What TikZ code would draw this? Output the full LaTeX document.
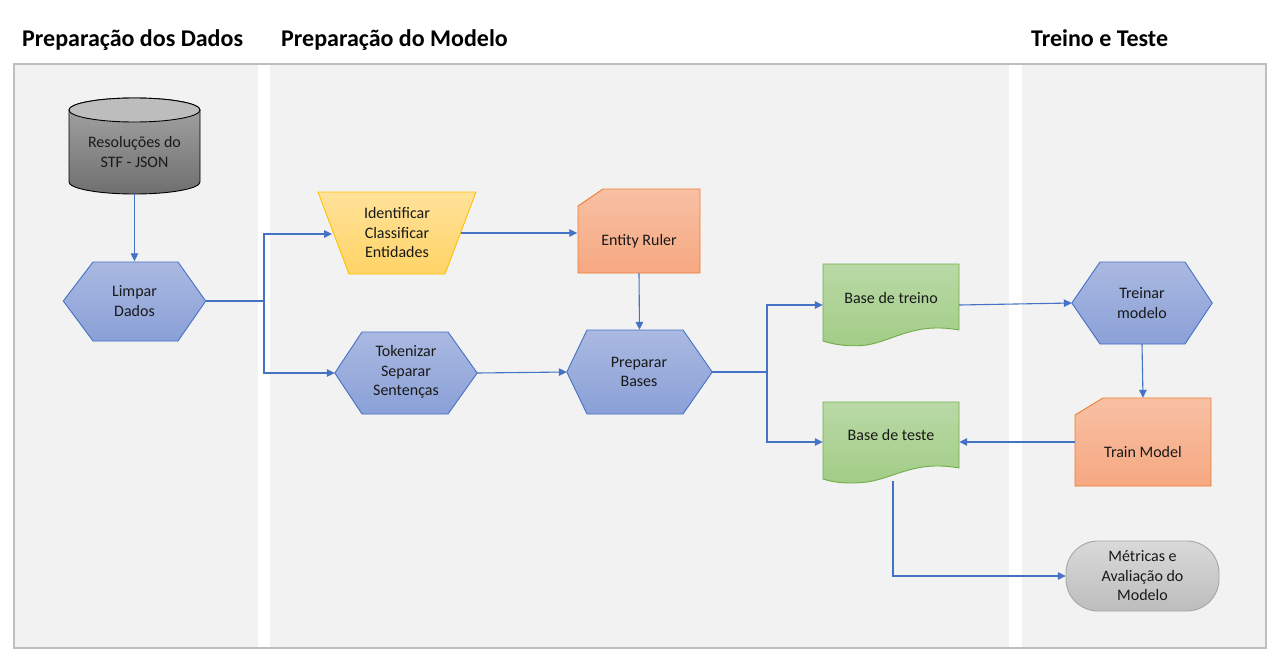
\documentclass[tikz,border=0pt]{standalone}
\usepackage{fontspec}
\setmainfont{Carlito}
\usetikzlibrary{arrows.meta,calc}
\definecolor{lanebg}{HTML}{F2F2F2}
\definecolor{frame}{HTML}{BFBFBF}
\definecolor{arrowblue}{HTML}{4472C4}
\definecolor{hexborder}{HTML}{4472C4}
\definecolor{hextop}{HTML}{AAB9E1}
\definecolor{hexbot}{HTML}{8AA0D7}
\definecolor{yelborder}{HTML}{FFC000}
\definecolor{yeltop}{HTML}{FFE29A}
\definecolor{yelbot}{HTML}{FFD466}
\definecolor{orborder}{HTML}{ED7D31}
\definecolor{ortop}{HTML}{F8C0A4}
\definecolor{orbot}{HTML}{F6A881}
\definecolor{grborder}{HTML}{70AD47}
\definecolor{grtop}{HTML}{B9D9A6}
\definecolor{grbot}{HTML}{A2CC86}
\definecolor{cyltop}{HTML}{A6A6A6}
\definecolor{cylbot}{HTML}{6F6F6F}
\definecolor{cylcap}{HTML}{BDBDBD}
\definecolor{graytop}{HTML}{D9D9D9}
\definecolor{graybot}{HTML}{BDBDBD}
\definecolor{grayborder}{HTML}{A6A6A6}
\tikzset{
  lbl/.style={inner sep=0pt, align=center, font=\fontsize{16}{19.5}\selectfont, text=black!90},
  ttl/.style={inner sep=0pt, anchor=base west, font=\fontsize{24}{27}\selectfont\bfseries},
  conn/.style={draw=arrowblue, line width=1.1pt, -{Triangle[length=8pt,width=7.5pt]}},
  line/.style={draw=arrowblue, line width=1.1pt},
  hexshape/.style={draw=hexborder, line width=0.9pt, top color=hextop, bottom color=hexbot},
  yelshape/.style={draw=yelborder, line width=0.9pt, top color=yeltop, bottom color=yelbot},
  orshape/.style={draw=orborder, line width=0.9pt, top color=ortop, bottom color=orbot},
  grshape/.style={draw=grborder, line width=0.9pt, top color=grtop, bottom color=grbot},
  grayshape/.style={draw=grayborder, line width=0.9pt, top color=graytop, bottom color=graybot},
}
\begin{document}
\begin{tikzpicture}[x=1pt,y=-1pt]
\useasboundingbox (0,0) rectangle (1280,666);
\fill[white] (0,0) rectangle (1280,666);
% lanes
\fill[lanebg] (14,64) rectangle (258,648);
\fill[lanebg] (270,64) rectangle (1009,648);
\fill[lanebg] (1022,64) rectangle (1266,648);
\draw[frame, line width=1.2pt] (14,64) rectangle (1266,648);
% titles
\node[ttl] (t1) at (22,47) {Preparação dos Dados};
\node[ttl] (t2) at (281,47) {Preparação do Modelo};
\node[ttl] (t3) at (1031,47) {Treino e Teste};

% cylinder
\path[draw=black, line width=0.9pt, top color=cyltop, bottom color=cylbot]
  (69,110) -- (69,182) arc[start angle=180, end angle=0, x radius=65.5, y radius=12] -- (200,110) arc[start angle=0, end angle=-180, x radius=65.5, y radius=12] -- cycle;
\path[draw=black, line width=0.9pt, fill=cylcap] (134.5,110) ellipse[x radius=65.5, y radius=12];
\node[lbl, minimum width=131pt, minimum height=96pt] (res) at (134.5,146) {};
\node[lbl] (restxt) at (134.5,152) {Resoluções do\\STF - JSON};

% Limpar Dados
\node[lbl, minimum width=142pt, minimum height=79pt] (limpar) at (134.5,301) {};
\path[hexshape] (limpar.west) -- (93,262) -- (178,262) -- (limpar.east) -- (178,341) -- (93,341) -- cycle;
\node[lbl] at (limpar) {Limpar\\Dados};

% Identificar trapezoid
\node[lbl, minimum width=158pt, minimum height=82pt] (ident) at (397,233) {};
\path[yelshape] (318,192) -- (476,192) -- (445,274) -- (349,274) -- cycle;
\node[lbl] at (397,233) {Identificar\\Classificar\\Entidades};
\coordinate (identR) at (461,233);
\coordinate (identL) at (332,234);

% Entity Ruler
\node[lbl, minimum width=123pt, minimum height=84pt] (entity) at (639,231) {};
\path[orshape] (578,206) -- (603,189) -- (700,189) -- (700,273) -- (578,273) -- cycle;
\node[lbl] at (639,241) {Entity Ruler};

% Tokenizar
\node[lbl, minimum width=142pt, minimum height=82pt] (token) at (406,373) {};
\path[hexshape] (token.west) -- (362,332) -- (448,332) -- (token.east) -- (448,414) -- (362,414) -- cycle;
\node[lbl] at (406,372) {Tokenizar\\Separar\\Sentenças};

% Preparar Bases
\node[lbl, minimum width=145pt, minimum height=84pt] (prep) at (639.5,372) {};
\path[hexshape] (prep.west) -- (587,330) -- (683,330) -- (prep.east) -- (683,414) -- (587,414) -- cycle;
\node[lbl] at (639,372) {Preparar\\Bases};

% Base de treino
\node[lbl, minimum width=136pt, minimum height=82pt] (treino) at (891,305) {};
\path[grshape] (823,264) -- (959,264) -- (959,330) .. controls (915,322) and (895,340) .. (867,345) .. controls (850,347) and (835,345) .. (823,341) -- cycle;
\node[lbl] at (891,298) {Base de treino};

% Base de teste
\node[lbl, minimum width=136pt, minimum height=80pt] (teste) at (891,442) {};
\path[grshape] (823,402) -- (959,402) -- (959,468) .. controls (915,460) and (895,478) .. (867,482) .. controls (850,484) and (835,483) .. (823,479) -- cycle;
\node[lbl] at (891,435) {Base de teste};
\coordinate (testeB) at (893,481);

% Treinar modelo
\node[lbl, minimum width=140pt, minimum height=82pt] (treinar) at (1142,303) {};
\path[hexshape] (treinar.west) -- (1100,262) -- (1185,262) -- (treinar.east) -- (1185,344) -- (1100,344) -- cycle;
\node[lbl] at (1142,303) {Treinar\\modelo};

% Train Model
\node[lbl, minimum width=136pt, minimum height=88pt] (train) at (1143,442) {};
\path[orshape] (1075,415) -- (1103,398) -- (1211,398) -- (1211,486) -- (1075,486) -- cycle;
\node[lbl] at (1143,452) {Train Model};

% Metricas
\node[lbl, minimum width=153pt, minimum height=69pt] (metr) at (1142.5,576) {};
\path[grayshape, rounded corners=32pt] (1066,541) rectangle (1219,611);
\node[lbl] at (1142.5,576) {Métricas e\\Avaliação do\\Modelo};

% connectors
\draw[conn] (res.south) -- (limpar.north);
\draw[line] (limpar.east) -- (264,301);
\draw[conn] (264,301) |- (identL);
\draw[conn] (264,301) |- (token.west);
\draw[conn] (identR) -- (entity.west |- identR);
\draw[conn] (entity.south) -- (prep.north);
\draw[conn] (token.east) -- (prep.west);
\draw[line] (prep.east) -- (767,372);
\draw[conn] (767,372) |- (treino.west);
\draw[conn] (767,372) |- (teste.west);
\draw[conn] (treino.east) -- (treinar.west);
\draw[conn] (treinar.south) -- (train.north);
\draw[conn] (train.west) -- (teste.east);
\draw[conn] (testeB) |- (metr.west);
\end{tikzpicture}
\end{document}
